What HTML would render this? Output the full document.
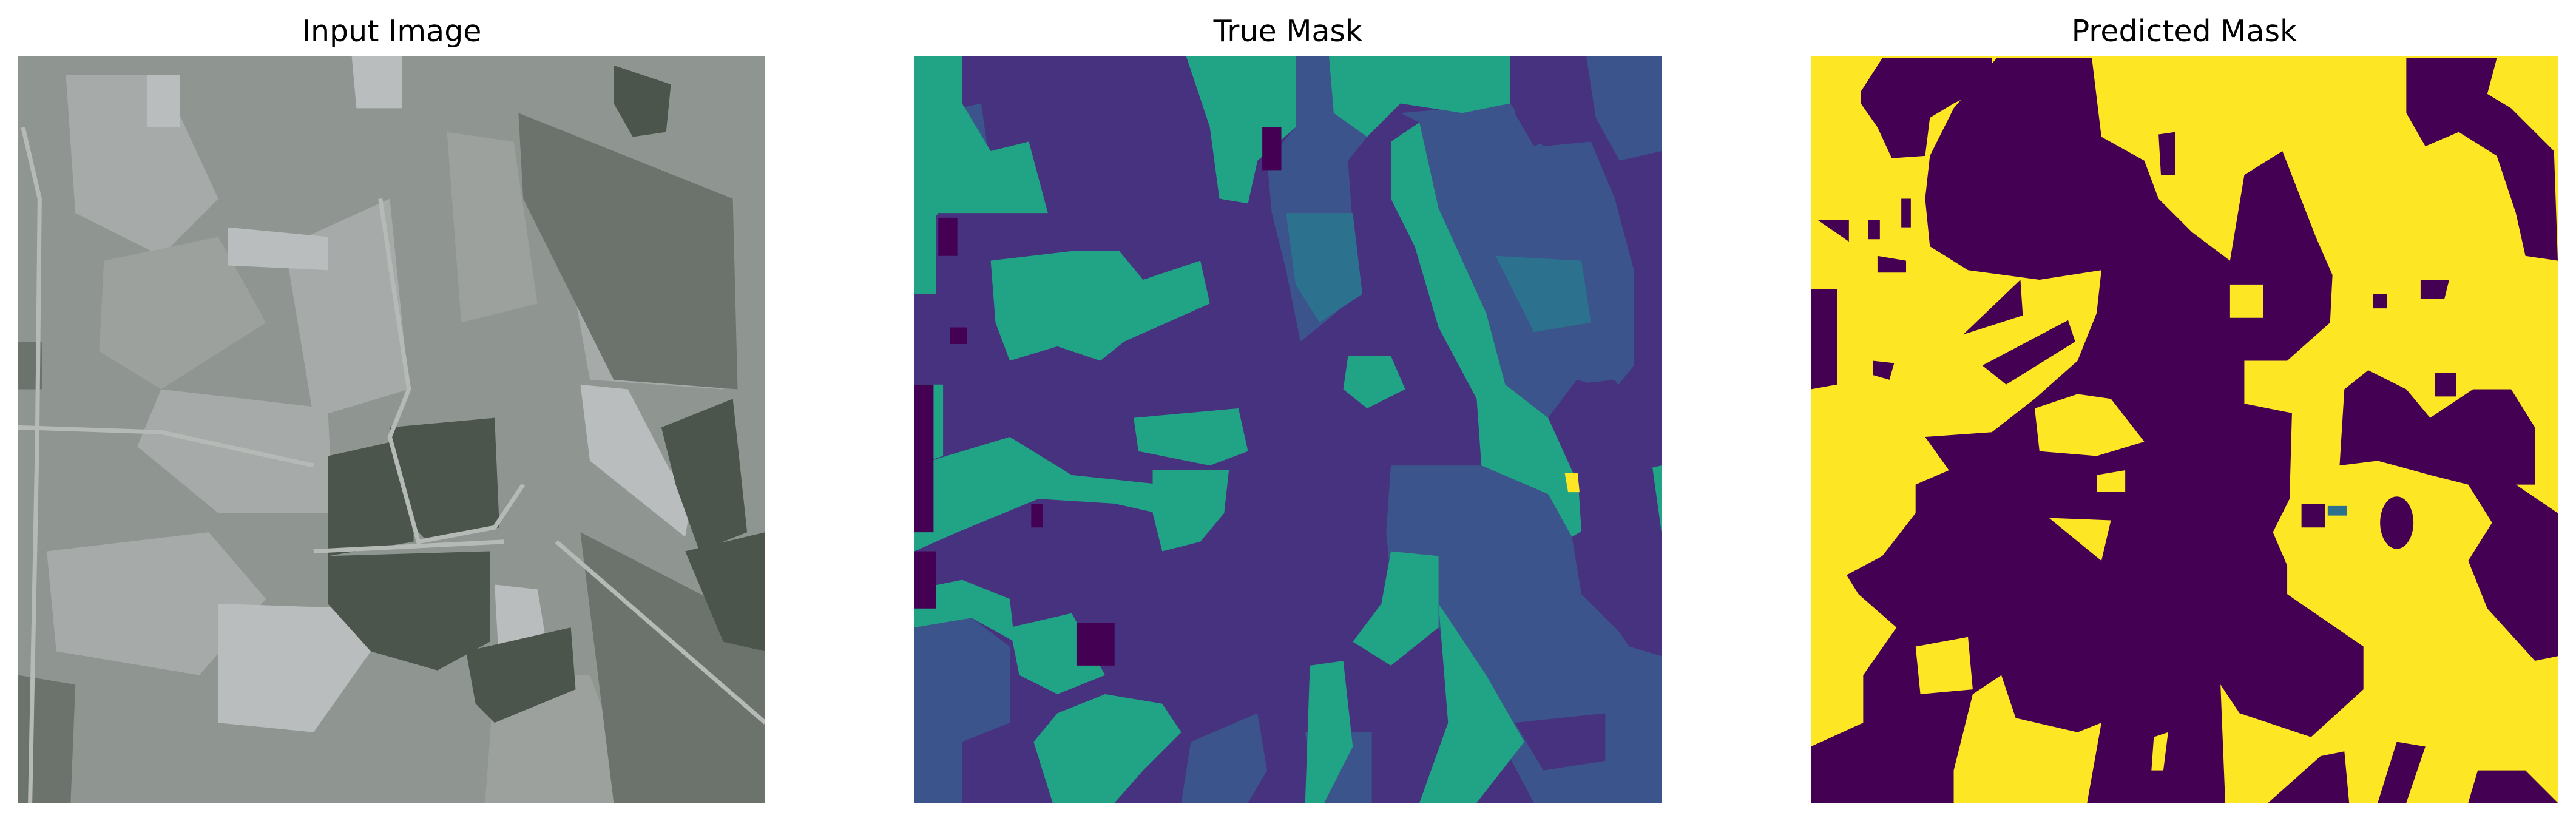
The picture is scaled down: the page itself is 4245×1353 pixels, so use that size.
<!DOCTYPE html>
<html><head><meta charset="utf-8"><style>
html,body{margin:0;padding:0;background:#fff;}
svg{display:block;}
text{font-family:"DejaVu Sans","Liberation Sans",sans-serif;}
</style></head><body>
<svg width="4245" height="1353" viewBox="0 0 4245 1353">
<rect width="4245" height="1353" fill="#fff"/>
<text x="645.5" y="68" font-size="49" text-anchor="middle" fill="#000">Input Image</text>
<text x="2122.5" y="68" font-size="49" text-anchor="middle" fill="#000">True Mask</text>
<text x="3599.5" y="68" font-size="49" text-anchor="middle" fill="#000">Predicted Mask</text>

<!-- Input image -->
<svg x="30" y="92" width="1231" height="1231" viewBox="0 0 1568 1568" preserveAspectRatio="none">
<rect width="1568" height="1568" fill="#8f9591"/>
<g fill="#a6abaa">
<polygon points="100,40 300,40 420,300 300,420 120,330"/>
<polygon points="300,700 650,740 660,960 420,960 250,820"/>
<polygon points="560,400 780,300 820,700 620,760"/>
<polygon points="60,1040 400,1000 520,1140 380,1300 80,1250"/>
<polygon points="1150,400 1450,420 1480,700 1200,680"/>
</g>
<g fill="#9ca19e">
<polygon points="180,430 420,380 520,560 300,700 170,620"/>
<polygon points="900,160 1040,180 1090,520 930,560"/>
<polygon points="1000,1300 1200,1300 1300,1568 980,1568"/>
</g>
<g fill="#b9bdbd">
<polygon points="700,0 805,0 805,110 710,110"/>
<polygon points="1180,690 1280,700 1410,950 1400,1010 1200,850"/>
<polygon points="420,1150 720,1160 740,1250 620,1420 420,1400"/>
<polygon points="1000,1110 1090,1120 1110,1240 1010,1290"/>
<polygon points="440,360 650,380 650,450 440,440"/>
<polygon points="270,40 340,40 340,150 270,150"/>
<polygon points="1368,870 1400,880 1395,920 1365,910"/>
</g>
<g fill="#6c736d">
<polygon points="1050,120 1500,300 1510,700 1250,680 1060,300"/>
<polygon points="0,1300 120,1320 110,1568 0,1568"/>
<polygon points="0,600 50,600 50,700 0,700"/>
<polygon points="1180,1000 1568,1200 1568,1568 1250,1568"/>
</g>
<g fill="#4c554c">
<polygon points="1250,20 1370,60 1360,160 1290,170 1250,100"/>
<polygon points="780,780 1000,760 1010,990 860,1020 790,950"/>
<polygon points="650,840 830,800 830,1020 650,1050"/>
<polygon points="650,1050 990,1040 990,1230 880,1290 740,1250 650,1150"/>
<polygon points="940,1250 1160,1200 1170,1330 1000,1400 960,1360"/>
<polygon points="1350,780 1500,720 1530,1000 1430,1040 1380,900"/>
<polygon points="1400,1040 1568,1000 1568,1250 1480,1230"/>
</g>
<g stroke="#b5bab7" stroke-width="9" fill="none">
<polyline points="10,150 45,300 40,800 25,1568"/>
<polyline points="0,780 300,790 620,860"/>
<polyline points="760,300 820,700 780,800 840,1020 1000,990 1060,900"/>
<polyline points="620,1040 1020,1020"/>
<polyline points="1130,1020 1568,1400"/>
</g>
</svg>

<!-- True mask -->
<svg x="1507" y="92" width="1231" height="1231" viewBox="0 0 1568 1568" preserveAspectRatio="none">
<rect width="1568" height="1568" fill="#46327e"/>
<g fill="#3b548c">
<polygon points="0,130 140,100 160,240 60,270 0,280"/>
<polygon points="800,0 880,0 880,120 950,170 910,220 930,500 860,560 810,600 780,450 750,330 740,220 800,150"/>
<polygon points="1020,120 1250,100 1320,190 1420,180 1470,300 1510,450 1510,650 1470,700 1390,680 1330,760 1240,690 1200,540 1100,320 1060,140"/>
<polygon points="1410,0 1568,0 1568,200 1480,220 1430,130"/>
<polygon points="1000,860 1190,860 1330,920 1380,1010 1400,1130 1500,1230 1568,1250 1568,1568 1300,1568 1200,1380 1100,1200 1000,1100 990,1000"/>
<polygon points="0,1200 120,1180 200,1240 200,1400 100,1440 100,1568 0,1568"/>
<polygon points="820,1420 960,1420 960,1568 840,1568"/>
<polygon points="580,1440 720,1380 740,1500 700,1568 560,1568"/>
</g>
<g fill="#2c718e">
<polygon points="780,330 920,330 940,500 850,560 800,480"/>
<polygon points="1220,420 1400,430 1420,560 1300,580"/>
</g>
<g fill="#21a386">
<polygon points="0,0 100,0 100,100 160,200 240,180 280,330 160,330 50,330 0,400"/>
<polygon points="160,430 330,410 430,410 480,470 600,430 620,520 440,600 390,640 300,610 200,640 170,560"/>
<polygon points="570,0 800,0 800,150 720,220 700,310 640,300 620,150"/>
<polygon points="870,0 1250,0 1250,100 1150,120 1020,100 950,170 880,120"/>
<polygon points="1000,180 1060,140 1100,320 1200,540 1240,690 1330,760 1430,980 1380,1010 1330,920 1190,860 1180,720 1100,570 1050,400 1000,300"/>
<polygon points="1000,1040 1100,1050 1100,1200 1000,1280 920,1230 980,1150"/>
<polygon points="1100,1150 1200,1300 1280,1440 1180,1568 1060,1568 1120,1400"/>
<polygon points="1480,880 1568,860 1568,1040 1500,1030"/>
<polygon points="300,1380 400,1340 520,1360 560,1420 480,1500 420,1568 290,1568 250,1440"/>
<polygon points="0,1120 100,1100 200,1140 210,1230 120,1180 0,1200"/>
<polygon points="460,760 680,740 700,830 620,860 470,830"/>
<polygon points="500,870 660,870 650,960 600,1020 520,1040 500,960"/>
<polygon points="0,860 200,800 330,880 520,900 640,940 600,980 420,940 260,930 90,1000 0,1040"/>
<polygon points="830,1280 900,1270 920,1450 860,1568 820,1568"/>
<polygon points="910,630 1000,630 1030,700 950,740 900,700"/>
<polygon points="0,300 45,300 45,500 0,500"/>
<polygon points="0,690 60,690 60,840 0,860"/>
<polygon points="200,1200 330,1170 400,1300 300,1340 220,1300"/>
</g>
<g fill="#46327e">
<polygon points="1250,0 1400,0 1400,150 1300,190 1260,120"/>
<polygon points="1380,690 1470,680 1540,800 1568,1000 1568,1260 1500,1240 1420,1120 1400,1000"/>
<polygon points="1260,1400 1450,1380 1450,1480 1320,1500"/>
</g>
<g fill="#440154">
<polygon points="730,150 770,150 770,240 730,240"/>
<polygon points="50,340 90,340 90,420 50,420"/>
<polygon points="0,1040 45,1040 45,1160 0,1160"/>
<polygon points="340,1190 420,1190 420,1280 340,1280"/>
<polygon points="245,940 270,940 270,990 245,990"/>
<polygon points="75,570 110,570 110,605 75,605"/>
<polygon points="0,690 40,690 40,1000 0,1000"/>
</g>
<polygon points="1365,876 1392,876 1396,916 1372,916" fill="#fde725"/>
</svg>

<!-- Predicted mask -->
<svg x="2984" y="92" width="1231" height="1231" viewBox="0 0 1568 1568" preserveAspectRatio="none">
<rect width="1568" height="1568" fill="#fde725"/>
<g fill="#440154">
<polygon points="105,75 150,5 380,5 380,60 300,100 250,130 240,210 170,215 140,150 105,100"/>
<polygon points="250,210 300,110 390,5 590,5 610,170 700,220 730,300 800,370 880,430 910,250 990,200 1060,380 1095,460 1090,560 1000,640 910,640 910,730 1010,750 1005,930 970,1000 1000,1070 1000,1130 1160,1240 1160,1330 1050,1430 900,1380 860,1320 870,1568 0,1568 0,1450 110,1400 110,1300 180,1200 100,1130 75,1090 150,1050 220,960 220,900 290,870 240,800 380,790 470,720 560,640 600,540 610,450 480,470 330,450 250,400 240,300"/>
<polygon points="1250,5 1440,5 1420,80 1470,110 1560,200 1568,430 1500,420 1480,330 1440,210 1360,160 1290,190 1250,120"/>
<polygon points="1120,700 1170,660 1250,700 1300,760 1390,700 1470,700 1520,780 1520,900 1480,900 1568,960 1568,1260 1520,1270 1420,1160 1380,1060 1430,980 1380,900 1300,880 1190,850 1110,860"/>
<ellipse cx="1230" cy="980" rx="35" ry="55"/>
<polygon points="0,490 55,490 55,690 0,700"/>
<polygon points="1070,1470 1120,1460 1130,1568 960,1568"/>
<polygon points="1230,1440 1290,1450 1250,1568 1190,1568"/>
<polygon points="1180,500 1210,500 1210,530 1180,530"/>
<polygon points="1280,470 1340,470 1330,510 1280,510"/>
<polygon points="1310,665 1355,665 1355,715 1310,715"/>
<polygon points="1030,940 1080,940 1080,990 1030,990"/>
<polygon points="730,165 765,160 765,250 735,250"/>
<polygon points="140,420 200,430 200,455 140,455"/>
<polygon points="120,345 145,345 145,385 120,385"/>
<polygon points="190,300 210,300 210,360 190,360"/>
<polygon points="15,345 80,345 80,390"/>
<polygon points="130,640 175,645 165,680 130,670"/>
<polygon points="320,585 440,470 445,545"/>
<polygon points="360,650 540,555 555,600 410,690"/>
<polygon points="1400,1500 1500,1500 1568,1568 1380,1568"/>
</g>
<g fill="#fde725">
<polygon points="470,740 560,710 630,720 700,810 600,840 480,830"/>
<polygon points="500,970 630,975 610,1060"/>
<polygon points="880,480 950,480 950,550 880,550"/>
<polygon points="300,1500 340,1340 400,1300 430,1390 560,1420 610,1400 580,1568 300,1568"/>
<polygon points="220,1240 330,1220 340,1330 230,1340"/>
<polygon points="600,880 660,870 660,915 600,915"/>
<polygon points="720,1430 750,1420 740,1500 715,1500"/>
</g>
<polygon points="1085,945 1125,945 1125,965 1085,965" fill="#2c718e"/>
</svg>
</svg>
</body></html>
